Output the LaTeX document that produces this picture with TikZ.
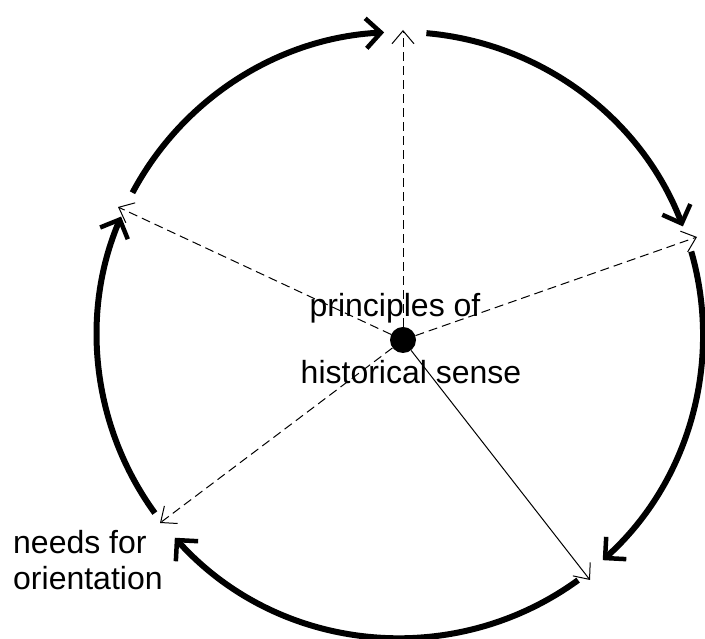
\documentclass[tikz,border=0pt]{standalone}
\usepackage{fontspec}
\setmainfont{Liberation Sans}
\usepackage{tikz}
\usetikzlibrary{arrows.meta,
positioning,
calc}

\begin{document}
\begin{tikzpicture}[
    x=1pt, y=1pt,
    cycle/.style={
        line width=6pt,
        -{Straight Barb[length=15pt,width=30pt,line width=4.5pt]}
    },
    ray/.style={
        line width=1pt,
        dash pattern=on 9pt off 5pt,
        -{Straight Barb[length=13pt,width=22pt,line width=1pt]}
    },
    lbl/.style={
        font=\fontsize{32}{36}\selectfont,
        inner sep=0pt
    }
]

\useasboundingbox (0,0) rectangle (705,639);

\coordinate (O) at (400,304);

\node[circle, fill, inner sep=0pt, minimum size=26pt] (dot) at (403,299) {};

\node[lbl] (principles) at (395,331) {principles of};
\node[lbl] (historical) at (411,267) {historical sense};
\node[lbl, align=left, anchor=west] (needs) at (13,79) {needs for\\orientation};

% points where the rays meet the circle
\coordinate (top) at (403,609);
\coordinate (right) at (697,402);
\coordinate (lowright) at (590,59);
\coordinate (lowleft) at (160,116);
\coordinate (left) at (118,432);

% rays from the centre
\draw[ray] (dot) -- (top);
\draw[ray] (dot) -- (right);
\draw[ray, solid] (dot) -- (lowright);
\draw[ray] (dot) -- (lowleft);
\draw[ray] (dot) -- (left);

% the cycle round the circle
\draw[cycle] ($(O)+(152:303)$) arc[start angle=152, end angle=93, radius=303];
\draw[cycle] ($(O)+(85:303)$) arc[start angle=85, end angle=21, radius=303];
\draw[cycle] ($(O)+(16:303)$) arc[start angle=16, end angle=-48, radius=303];
\draw[cycle] ($(O)+(-54:303)$) arc[start angle=-54, end angle=-138, radius=303];
\draw[cycle] ($(O)+(216:303)$) arc[start angle=216, end angle=157, radius=303];

\end{tikzpicture}
\end{document}
